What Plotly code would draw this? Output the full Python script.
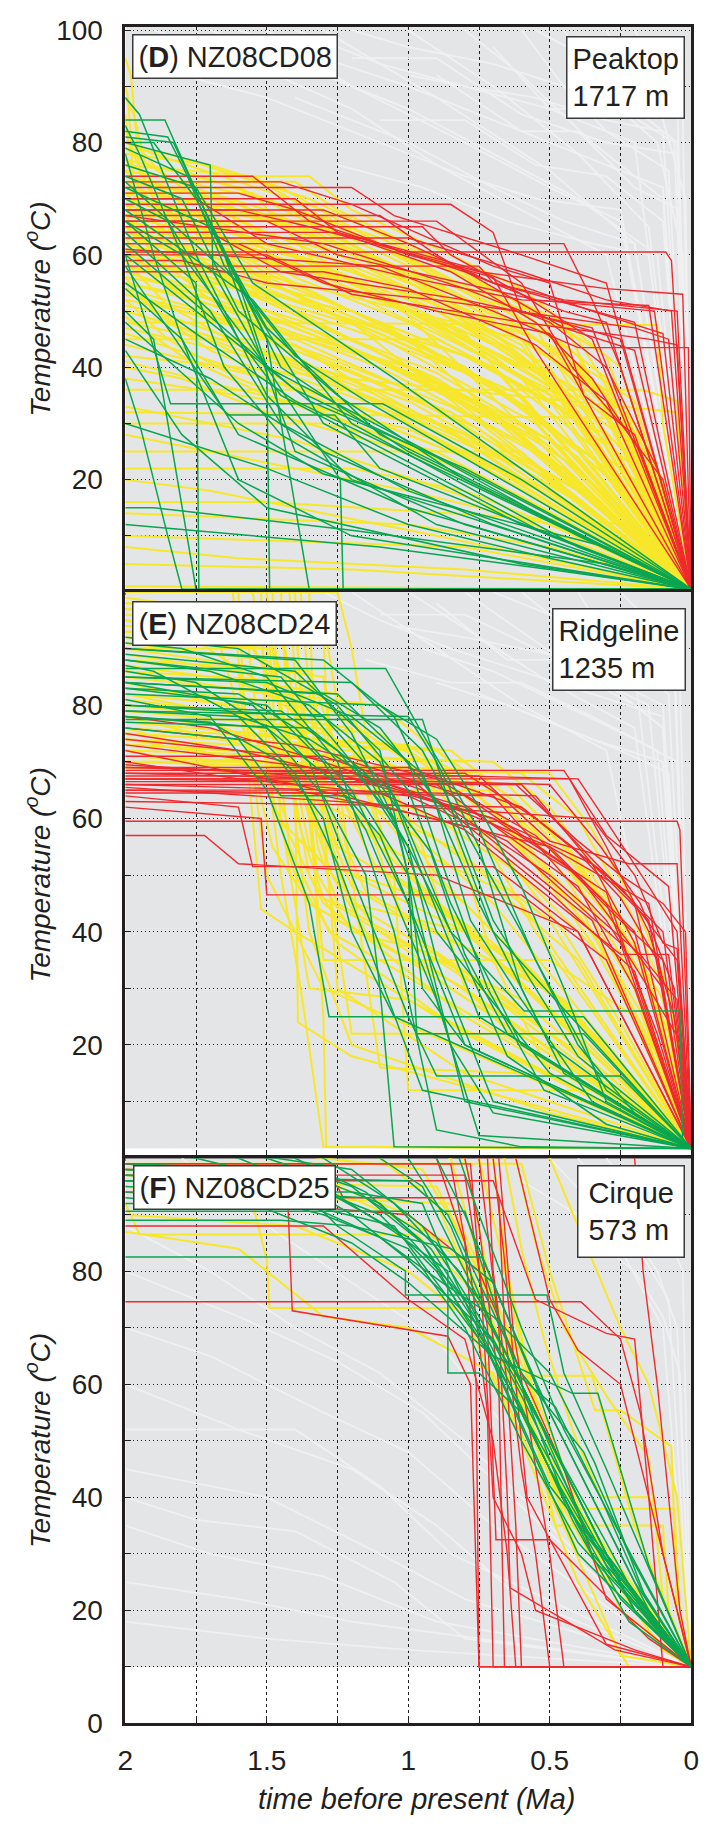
import plotly.graph_objects as go

# ---------------- data ----------------
time_ticks = [0, 0.25, 0.5, 0.75, 1, 1.25, 1.5, 1.75, 2]
time_ticklabels = ["0", "", "0.5", "", "1", "", "1.5", "", "2"]
temp_ticks = [0, 10, 20, 30, 40, 50, 60, 70, 80, 90, 100]
temp_labels_D = ["", "", "20", "", "40", "", "60", "", "80", "", "100"]
temp_labels_E = ["", "", "20", "", "40", "", "60", "", "80", "", ""]
temp_labels_F = ["0", "", "20", "", "40", "", "60", "", "80", "", ""]

panel_names = ["D", "E", "F"]
sample_ids = ["NZ08CD08", "NZ08CD24", "NZ08CD25"]
site_names = ["Peaktop", "Ridgeline", "Cirque"]
elevations_m = [1717, 1235, 573]
surface_temp = [0.5, 1.7, 10]      # lower limit of the explored (grey) path field
grey_top = [101, 100, 100]

# ---- panel D : NZ08CD08 ----
D_gray = [
    [(1.3,100),(0.9,88),(0.5,75),(0.2,62),(0,0.5)],
    [(1.0,100),(0.7,90),(0.4,78),(0.15,65),(0,0.5)],
    [(0.8,100),(0.6,92),(0.35,80),(0.1,70),(0,0.5)],
    [(0.6,100),(0.45,90),(0.3,82),(0.08,75),(0,0.5)],
    [(0.45,100),(0.3,88),(0.12,80),(0.03,60),(0,0.5)],
    [(1.2,95),(0.9,95),(0.6,85),(0.3,80),(0.05,78),(0,0.5)],
    [(1.5,100),(1.2,90),(0.8,80),(0.5,72),(0.25,66),(0,0.5)],
    [(0.9,92),(0.6,82),(0.4,82),(0.2,72),(0.04,68),(0,0.5)],
    [(0.3,100),(0.2,90),(0.1,84),(0.02,70),(0,0.5)],
    [(1.1,84),(0.8,84),(0.55,76),(0.3,74),(0.1,66),(0,0.5)],
    [(0.7,97),(0.5,86),(0.25,86),(0.06,80),(0,0.5)],
    [(1.7,100),(1.3,92),(1.0,86),(0.7,78),(0.4,70),(0.12,60),(0,0.5)],
    [(1.9,100),(1.6,95),(1.2,86),(0.9,76),(0.6,68),(0.3,60),(0,0.5)],
    [(0.2,100),(0.12,92),(0.05,88),(0,0.5)],
    [(1.4,88),(1.0,80),(0.7,72),(0.45,66),(0.2,62),(0,0.5)],
    [(1.6,100),(1.3,95),(1.0,90),(0.7,84),(0.4,78),(0.1,72),(0,0.5)],
    [(1.4,100),(1.1,94),(0.8,90),(0.5,86),(0.2,80),(0,0.5)],
    [(1.2,100),(1.0,97),(0.7,94),(0.45,90),(0.2,86),(0.05,80),(0,0.5)],
    [(1.0,92),(0.8,90),(0.55,88),(0.3,84),(0.1,82),(0,0.5)],
    [(0.55,100),(0.4,96),(0.25,94),(0.12,90),(0.03,85),(0,0.5)],
    [(1.8,92),(1.5,88),(1.1,80),(0.8,74),(0.55,70),(0.25,68),(0,0.5)],
    [(1.25,76),(0.95,72),(0.65,66),(0.35,62),(0.15,60),(0,0.5)],
]
D_yellow = [
    [(2,78),(1.7,76),(1.45,72),(1.1,62),(0.7,52),(0.4,42),(0,0.5)],
    [(2,75),(1.5,70),(1.0,58),(0.6,45),(0,0.5)],
    [(2,73),(1.65,70),(1.2,60),(0.7,48),(0.3,35),(0,0.5)],
    [(2,72),(1.3,65),(0.9,52),(0.5,40),(0,0.5)],
    [(2,70),(1.5,62),(1.0,50),(0.5,35),(0,0.5)],
    [(2,68),(1.8,67),(1.4,60),(0.9,48),(0.4,32),(0,0.5)],
    [(2,66),(1.2,55),(0.6,38),(0,0.5)],
    [(2,65),(1.6,58),(1.1,48),(0.6,33),(0,0.5)],
    [(2,63),(1.4,55),(0.8,40),(0.3,22),(0,0.5)],
    [(2,62),(1.0,45),(0,0.5)],
    [(2,60),(1.7,56),(1.2,45),(0.7,32),(0,0.5)],
    [(2,58),(1.5,50),(0.9,37),(0,0.5)],
    [(2,57),(1.3,46),(0.6,28),(0,0.5)],
    [(2,55),(1.8,53),(1.1,40),(0.5,24),(0,0.5)],
    [(2,53),(1.4,44),(0,0.5)],
    [(2,52),(1.6,48),(1.0,35),(0.4,18),(0,0.5)],
    [(2,50),(1.2,38),(0.6,22),(0,0.5)],
    [(2,48),(1.7,45),(0.8,28),(0,0.5)],
    [(2,46),(1.0,30),(0,0.5)],
    [(2,44),(1.5,38),(0.7,22),(0,0.5)],
    [(2,80),(1.9,78),(1.6,73),(1.3,68),(1.0,62),(0.6,50),(0.3,38),(0,0.5)],
    [(2,76),(1.55,74),(1.25,65),(0.95,58),(0.55,47),(0,0.5)],
    [(2,74),(1.35,74),(1.2,68),(0.85,60),(0.6,54),(0.25,40),(0,0.5)],
    [(2,69),(1.45,69),(1.1,63),(0.75,55),(0.45,48),(0,0.5)],
    [(2,67),(1.75,67),(1.4,60),(1.0,54),(0.55,45),(0.25,33),(0,0.5)],
    [(2,71),(1.55,71),(1.3,57),(0.8,46),(0,0.5)],
    [(2,64),(1.9,62),(1.6,55),(1.3,50),(0.8,42),(0.3,28),(0,0.5)],
    [(2,61),(1.3,52),(0.7,40),(0.2,20),(0,0.5)],
    [(2,36),(0.17,36),(0.05,34),(0,0.5)],
    [(2,30),(1.3,30),(0.9,25),(0,0.5)],
    [(2,25),(0.6,25),(0.5,20),(0,0.5)],
    [(2,16),(1.5,16),(0.2,12),(0,0.5)],
    [(2,10),(0.8,8),(0,0.5)],
    [(2,5),(1.2,4),(0,0.5)],
    [(2,40),(1.8,38),(1.5,32),(1.0,25),(0,0.5)],
    [(2,33),(1.4,27),(0.8,17),(0,0.5)],
    [(2,20),(1.7,18),(0.9,10),(0,0.5)],
    [(2,45),(0.9,45),(0.7,40),(0,0.5)],
    [(2,48),(0.12,47.5),(0.1,30),(0,0.5)],
    [(2,42),(0.05,32),(0,0.5)],
    [(2,1),(0,0.5)],
    [(2,95),(1.98,92),(1.95,75),(1.8,60),(1.5,45),(0,0.5)],
    [(2,88),(1.97,85),(1.9,70),(1.6,58),(1.2,48),(0,0.5)],
    [(2,62),(1.6,57),(1.2,49),(0.8,40),(0.4,25),(0,0.5)],
    [(2,59),(1.5,54),(1.1,46),(0.6,35),(0,0.5)],
    [(2,56),(1.75,54),(1.3,47),(0.9,39),(0.4,24),(0,0.5)],
    [(2,66),(1.5,60),(1.15,54),(0.7,42),(0.3,26),(0,0.5)],
    [(2,54),(1.5,47),(1.1,41),(0.7,31),(0,0.5)],
    [(2,69),(1.7,64),(1.3,58),(0.9,50),(0.5,38),(0,0.5)],
    [(2,51),(1.9,50),(1.5,43),(1.0,34),(0.5,20),(0,0.5)],
    [(2,47),(1.4,40),(0.9,30),(0,0.5)],
    [(2,72),(1.6,68),(1.2,61),(0.8,52),(0.45,42),(0.2,30),(0,0.5)],
    [(2,58),(1.2,50),(0.8,42),(0.35,30),(0,0.5)],
    [(2,64),(1.45,58),(1.0,50),(0.6,40),(0.25,28),(0,0.5)],
    [(2,77),(1.6,72),(1.2,62),(0.8,50),(0.4,34),(0,0.5)],
    [(2,74),(1.7,70),(1.4,64),(1.0,54),(0.6,42),(0.25,24),(0,0.5)],
    [(2,70),(1.8,68),(1.5,63),(1.1,55),(0.7,45),(0.35,32),(0,0.5)],
    [(2,67),(1.6,62),(1.25,56),(0.85,47),(0.45,35),(0,0.5)],
    [(2,63),(1.7,60),(1.35,52),(0.95,44),(0.55,32),(0.2,16),(0,0.5)],
    [(2,60),(1.55,53),(1.15,47),(0.75,38),(0.35,24),(0,0.5)],
    [(2,57),(1.7,52),(1.4,46),(1.0,40),(0.6,30),(0.25,15),(0,0.5)],
    [(2,55),(1.45,48),(1.05,40),(0.65,30),(0,0.5)],
    [(2,53),(1.75,50),(1.3,42),(0.85,33),(0.45,22),(0,0.5)],
    [(2,50),(1.6,44),(1.2,37),(0.8,28),(0.4,16),(0,0.5)],
    [(2,76),(1.8,75),(1.5,70),(1.15,63),(0.75,52),(0.4,40),(0.15,22),(0,0.5)],
    [(2,79),(1.85,78),(1.6,74),(1.35,70),(0.95,60),(0.55,48),(0.2,30),(0,0.5)],
    [(2,73),(1.4,73),(1.25,68),(1.0,62),(0.7,54),(0.4,45),(0.1,20),(0,0.5)],
    [(2,71),(1.65,66),(1.3,61),(0.9,53),(0.5,42),(0.2,26),(0,0.5)],
    [(2,65),(1.8,63),(1.5,59),(1.2,53),(0.9,46),(0.5,36),(0.2,22),(0,0.5)],
    [(2,62),(1.75,58),(1.45,51),(1.1,45),(0.7,37),(0.3,22),(0,0.5)],
    [(2,58),(1.8,56),(1.55,50),(1.25,44),(0.9,37),(0.5,27),(0,0.5)],
    [(2,68),(1.3,67),(1.05,60),(0.75,52),(0.55,50),(0.3,42),(0,0.5)],
    [(2,72),(1.5,66),(1.3,64),(1.0,57),(0.8,50),(0.5,44),(0.2,34),(0,0.5)],
    [(2,66),(1.9,65),(1.6,60),(1.4,55),(1.0,50),(0.6,45),(0.3,36),(0,0.5)],
    [(2,28),(1.6,24),(1.0,18),(0.5,12),(0,0.5)],
    [(2,22),(1.2,22),(0.8,18),(0.4,10),(0,0.5)],
    [(2,14),(1.0,12),(0.5,8),(0,0.5)],
    [(2,38),(1.2,32),(0.6,20),(0,0.5)],
    [(2,8),(1.6,6),(0.8,4),(0,0.5)],
    [(2,32),(0.3,31),(0.2,25),(0,0.5)],
    [(2,41),(1.6,36),(1.0,29),(0.5,18),(0,0.5)],
    [(2,85),(1.99,80),(1.9,70),(1.7,64),(1.4,58),(1.0,50),(0.5,38),(0,0.5)],
    [(2,90),(1.99,88),(1.97,72),(1.85,66),(1.5,60),(1.1,54),(0,0.5)],
    [(2,82),(1.9,76),(1.75,70),(1.5,64),(1.1,56),(0.6,44),(0,0.5)],
    [(2,79),(1.8,72),(1.6,66),(1.3,60),(0.9,50),(0.4,36),(0,0.5)],
    [(2,77),(1.85,71),(1.65,63),(1.4,56),(1.0,48),(0.5,34),(0,0.5)],
    [(2,75),(1.9,69),(1.7,62),(1.45,54),(1.05,44),(0.55,30),(0,0.5)],
    [(2,73),(1.8,66),(1.55,58),(1.2,50),(0.8,40),(0.35,24),(0,0.5)],
    [(2,71),(1.9,66),(1.7,58),(1.4,50),(1.0,40),(0.5,26),(0,0.5)],
    [(2,69),(1.85,62),(1.6,54),(1.3,47),(0.9,38),(0.4,22),(0,0.5)],
    [(2,67),(1.9,60),(1.7,52),(1.4,45),(1.0,36),(0.5,20),(0,0.5)],
    [(2,65),(1.8,57),(1.5,49),(1.15,42),(0.7,32),(0,0.5)],
    [(2,63),(1.9,56),(1.65,48),(1.3,41),(0.85,32),(0.4,18),(0,0.5)],
    [(2,61),(1.8,53),(1.55,46),(1.2,39),(0.75,29),(0,0.5)],
    [(2,59),(1.85,51),(1.6,44),(1.25,37),(0.8,27),(0,0.5)],
    [(2,56),(1.9,50),(1.7,43),(1.4,37),(1.0,30),(0.5,17),(0,0.5)],
    [(2,54),(1.8,47),(1.5,40),(1.1,33),(0.6,22),(0,0.5)],
    [(2,52),(1.85,45),(1.6,38),(1.25,31),(0.8,22),(0,0.5)],
    [(2,49),(1.8,42),(1.5,35),(1.1,28),(0.6,17),(0,0.5)],
    [(2,76),(1.7,71),(1.5,68),(1.2,61),(0.9,55),(0.6,47),(0.3,35),(0,0.5)],
    [(2,74),(1.6,69),(1.35,64),(1.05,57),(0.75,50),(0.45,40),(0.2,28),(0,0.5)],
    [(2,70),(1.75,67),(1.5,61),(1.2,57),(0.9,51),(0.6,43),(0.3,31),(0,0.5)],
    [(2,68),(1.55,63),(1.3,58),(1.0,51),(0.7,44),(0.4,34),(0.15,20),(0,0.5)],
]
D_red = [
    [(2,74),(1.55,74),(1.35,66),(0.8,57),(0.45,50),(0.3,48),(0,0.5)],
    [(2,72),(1.2,72),(1.05,67),(0.6,60),(0.3,55),(0,0.5)],
    [(2,70),(1.4,70),(1.25,64),(0.8,58),(0.35,50),(0.1,46),(0,0.5)],
    [(2,69),(0.85,69),(0.7,64),(0.6,50),(0.25,45),(0,0.5)],
    [(2,68),(1.3,68),(1.0,62),(0.7,55),(0.2,48),(0,0.5)],
    [(2,67),(1.1,67),(0.9,60),(0.45,47),(0.2,43),(0,0.5)],
    [(2,66),(1.5,66),(1.25,60),(0.55,52),(0.13,50),(0,0.5)],
    [(2,65),(0.95,65),(0.85,60),(0.6,53),(0.35,45),(0,0.5)],
    [(2,64),(1.7,64),(1.45,57),(0.8,52),(0.35,47),(0,0.5)],
    [(2,63),(1.0,63),(0.6,57),(0.3,52),(0.07,50),(0,0.5)],
    [(2,62),(1.6,62),(1.3,55),(0.9,50),(0.5,46),(0,0.5)],
    [(2,71),(1.6,71),(1.4,68),(1.0,60),(0.7,56),(0.55,43),(0,0.5)],
    [(2,60.5),(0.09,60.5),(0.07,59),(0,0.5)],
    [(2,58),(0.75,58),(0.7,55),(0.45,52),(0.05,50),(0,0.5)],
    [(2,60),(1.5,60),(1.2,53),(0.6,48),(0.15,45),(0.05,44),(0,0.5)],
    [(2,73),(1.45,73),(1.2,69),(0.7,58),(0.5,55),(0.38,35),(0.2,28),(0,0.5)],
    [(2,66),(0.9,66),(0.6,55),(0.42,40),(0.25,30),(0.1,20),(0,0.5)],
    [(2,64),(1.25,64),(0.85,57),(0.55,48),(0.35,38),(0.18,25),(0,0.5)],
    [(2,70),(1.75,70),(1.5,62),(1.0,56),(0.6,52),(0.15,51),(0,0.5)],
    [(2,68),(1.6,68),(1.35,65),(0.75,57),(0.3,54),(0.03,53),(0,0.5)],
    [(2,59),(1.8,59),(1.5,55),(0.9,52),(0.2,47),(0.08,45),(0,0.5)],
    [(2,62),(0.45,62),(0.35,52),(0.25,40),(0,0.5)],
    [(2,57),(1.3,57),(1.0,54),(0.55,44),(0.3,34),(0,0.5)],
    [(2,61),(1.1,58),(0.7,50),(0.4,43.5),(0.01,43.5),(0,0.5)],
    [(2,67),(1.3,62),(0.8,54),(0.5,48),(0.3,40),(0.12,22),(0,0.5)],
]
D_green = [
    [(2,84),(1.86,84),(1.65,60),(1.4,25),(0.8,12),(0,0.5)],
    [(2,88),(1.95,85),(1.75,60),(1.5,35),(1.2,20),(0,0.5)],
    [(2,82),(1.85,81),(1.7,66),(1.45,40),(1.0,25),(0,0.5)],
    [(2,81),(1.83,80),(1.6,55),(1.3,30),(0.6,12),(0,0.5)],
    [(2,80),(1.9,80),(1.75,70),(1.5,45),(1.35,0.5),(0,0.5)],
    [(2,80),(1.7,76),(1.69,57),(1.5,40),(0,0.5)],
    [(2,76),(1.75,72),(1.55,55),(1.05,38),(0,0.5)],
    [(2,74),(1.8,70),(1.6,50),(1.25,35),(0.8,20),(0,0.5)],
    [(2,72),(1.7,65),(1.5,47),(1.1,28),(0,0.5)],
    [(2,70),(1.85,66),(1.6,45),(1.45,35),(0.5,10),(0,0.5)],
    [(2,68),(1.55,52),(1.2,30),(0.4,8),(0,0.5)],
    [(2,66),(1.8,60),(1.5,40),(1.35,34),(0.8,22),(0,0.5)],
    [(2,64),(1.7,50),(1.45,30),(1.0,18),(0,0.5)],
    [(2,60),(1.84,33.5),(1.09,33.5),(0.6,20),(0,0.5)],
    [(2,58),(1.64,31.5),(1.26,31.5),(1.1,22),(0,0.5)],
    [(2,54),(1.8,45),(1.6,20),(1.2,10),(0,0.5)],
    [(2,50),(1.9,45),(1.75,0.5),(0,0.5)],
    [(2,66),(1.75,55),(1.74,0.5),(0,0.5)],
    [(2,73),(1.6,55),(1.5,40),(1.49,0.5),(0,0.5)],
    [(2,60),(1.5,40),(1.24,20),(1.23,0.5),(0,0.5)],
    [(2,38),(1.95,30),(1.85,10),(1.8,0.5),(0,0.5)],
    [(2,12),(1.1,8),(0.5,4),(0,0.5)],
    [(2,15),(1.9,15),(1.2,11),(0.3,5),(0,0.5)],
    [(2,30),(1.5,22),(1.0,12),(0.5,6),(0,0.5)],
    [(2,45),(1.7,38),(1.3,25),(0.7,12),(0,0.5)],
    [(2,55),(1.75,46),(1.4,34),(0.9,22),(0,0.5)],
    [(2,48),(1.6,30),(1.3,21),(0.3,8),(0,0.5)],
    [(2,43),(1.8,28),(1.5,15),(0.6,5),(0,0.5)],
    [(2,83),(1.95,78),(1.8,60),(1.65,40),(1.45,28),(0.9,12),(0,0.5)],
    [(2,79),(1.78,74),(1.65,58),(1.4,42),(1.15,34),(0,0.5)],
    [(2,62),(1.4,36),(0.9,24),(0.4,10),(0,0.5)],
    [(2,78),(1.9,60),(1.8,45),(1.6,28),(1.0,15),(0,0.5)],
]

# ---- panel E : NZ08CD24 ----
E_gray = [
    [(1.2,100),(0.9,90),(0.6,80),(0.3,72),(0,1.7)],
    [(1.0,100),(0.75,92),(0.5,84),(0.2,76),(0,1.7)],
    [(0.8,100),(0.6,93),(0.4,86),(0.15,80),(0,1.7)],
    [(0.6,100),(0.45,94),(0.25,88),(0.08,82),(0,1.7)],
    [(0.4,100),(0.3,92),(0.15,88),(0.04,84),(0,1.7)],
    [(1.1,96),(0.8,96),(0.55,90),(0.3,85),(0.1,80),(0,1.7)],
    [(0.95,90),(0.7,86),(0.45,80),(0.2,74),(0.05,70),(0,1.7)],
    [(0.5,97),(0.35,90),(0.2,90),(0.06,86),(0,1.7)],
    [(0.25,100),(0.15,95),(0.06,90),(0,1.7)],
    [(1.15,88),(0.85,84),(0.6,84),(0.35,78),(0.12,72),(0,1.7)],
    [(0.75,82),(0.55,78),(0.35,74),(0.1,70),(0,1.7)],
    [(0.9,98),(0.65,88),(0.45,88),(0.25,82),(0.1,76),(0,1.7)],
    [(1.3,100),(1.1,95),(0.85,90),(0.6,86),(0.35,82),(0.1,78),(0,1.7)],
    [(0.7,100),(0.55,97),(0.4,94),(0.22,92),(0.06,90),(0,1.7)],
    [(1.05,94),(0.8,92),(0.6,90),(0.4,88),(0.2,86),(0,1.7)],
    [(0.9,84),(0.65,80),(0.45,76),(0.25,72),(0.08,68),(0,1.7)],
    [(0.5,90),(0.35,84),(0.2,80),(0.1,76),(0,1.7)],
]
E_yellow = [
    [(2,99),(1.7,97),(1.55,70),(1.3,45),(0.8,25),(0,1.7)],
    [(2,97),(1.6,96),(1.45,80),(1.35,55),(1.1,40),(0,1.7)],
    [(2,95),(1.8,93),(1.4,80),(1.3,60),(1.2,45),(0.7,30),(0,1.7)],
    [(2,92),(1.55,90),(1.4,78),(1.25,55),(0.9,45),(0.4,25),(0,1.7)],
    [(2,90),(1.48,90),(1.33,70),(1.2,50),(0.6,35),(0,1.7)],
    [(2,88),(1.7,86),(1.3,78),(1.15,60),(1.0,40),(0.3,15),(0,1.7)],
    [(2,86),(1.5,82),(1.2,72),(1.0,58),(0.7,45),(0,1.7)],
    [(2,84),(1.65,80),(1.35,70),(1.1,55),(0.8,40),(0.4,22),(0,1.7)],
    [(2,82),(1.4,76),(1.1,65),(0.9,50),(0.5,30),(0,1.7)],
    [(2,80),(1.8,79),(1.45,72),(1.2,62),(0.95,48),(0,1.7)],
    [(2,78),(1.5,72),(1.25,65),(0.85,55),(0.5,42),(0,1.7)],
    [(2,76),(1.6,70),(1.2,60),(0.8,45),(0.4,25),(0,1.7)],
    [(2,74),(1.3,68),(0.9,60),(0.6,50),(0.3,35),(0,1.7)],
    [(2,72),(1.55,68),(1.3,65),(0.72,65),(0.5,55),(0.25,40),(0,1.7)],
    [(2,70),(1.45,70),(1.3,57),(1.2,45),(0.8,40),(0,1.7)],
    [(2,100),(1.45,100),(1.44,90),(1.4,60),(1.35,40),(1.2,20),(0.5,8),(0,1.7)],
    [(2,100),(1.35,100),(1.34,85),(1.3,60),(1.25,30),(0.8,15),(0,1.7)],
    [(2,100),(1.6,100),(1.58,80),(1.5,50),(1.3,30),(0,1.7)],
    [(2,98),(1.5,98),(1.47,75),(1.42,55),(1.28,40),(1.1,35),(0,1.7)],
    [(2,100),(1.25,100),(1.2,90),(1.15,75),(1.0,60),(0.6,45),(0,1.7)],
    [(2,96),(1.4,94),(1.35,70),(1.32,40),(1.3,25),(1.29,2),(0,1.7)],
    [(2,93),(1.5,90),(1.4,70),(1.39,24),(1.2,18),(0.6,10),(0,1.7)],
    [(2,89),(1.6,86),(1.55,60),(1.52,44),(1.4,40),(0.9,25),(0,1.7)],
    [(2,87),(1.25,82),(1.1,70),(0.95,55),(0.8,30),(0.6,20),(0,1.7)],
    [(2,83),(1.3,80),(1.0,70),(0.85,60),(0.7,35),(0.5,15),(0,1.7)],
    [(2,79),(1.1,75),(0.9,68),(0.75,58),(0.55,40),(0,1.7)],
    [(2,73),(0.9,70),(0.7,65),(0.45,50),(0.2,30),(0,1.7)],
    [(2,71),(0.75,68),(0.5,58),(0.3,45),(0.1,28),(0,1.7)],
    [(2,75),(1.0,72),(0.7,62),(0.4,45),(0.15,20),(0,1.7)],
    [(2,91),(1.5,88),(1.35,60),(1.3,35),(0.5,35),(0.2,25),(0,1.7)],
    [(2,94),(1.45,92),(1.3,55),(1.2,22),(0.4,22),(0,1.7)],
    [(2,81),(1.2,76),(1.05,50),(1.0,12),(0.3,12),(0,1.7)],
    [(2,90),(1.3,85),(1.2,50),(1.1,16),(0.6,15),(0,1.7)],
    [(2,100),(1.52,100),(1.5,70),(1.45,50),(1.38,30),(1.3,2),(0,1.7)],
    [(2,97),(1.3,95),(1.25,80),(1.15,65),(1.05,50),(0.7,38),(0.3,20),(0,1.7)],
    [(2,85),(1.1,80),(0.85,70),(0.6,55),(0.35,38),(0.15,20),(0,1.7)],
    [(2,77),(0.85,72),(0.6,62),(0.35,48),(0.15,30),(0,1.7)],
    [(2,100),(1.4,100),(1.38,80),(1.32,55),(1.25,45),(0.9,35),(0.5,22),(0,1.7)],
    [(2,73),(0.8,70),(0.55,60),(0.35,50),(0.2,38),(0.08,22),(0,1.7)],
    [(2,69),(0.65,66),(0.45,56),(0.3,45),(0.15,32),(0,1.7)],
    [(2,74),(1.2,72),(0.8,64),(0.55,52),(0.35,40),(0.18,26),(0,1.7)],
    [(2,70),(0.6,68),(0.4,60),(0.22,44),(0.1,30),(0,1.7)],
    [(2,76),(1.0,73),(0.75,64),(0.5,50),(0.3,36),(0.12,18),(0,1.7)],
    [(2,78),(1.3,75),(0.95,67),(0.7,56),(0.45,40),(0.25,24),(0,1.7)],
    [(2,100),(1.55,100),(1.5,85),(1.45,60),(1.4,45),(1.35,30),(1.0,28),(0,1.7)],
    [(2,100),(1.48,100),(1.46,82),(1.4,64),(1.35,50),(1.25,42),(0.8,30),(0,1.7)],
    [(2,100),(1.42,100),(1.4,85),(1.36,65),(1.32,50),(1.2,40),(0.9,36),(0,1.7)],
    [(2,95),(1.3,93),(1.28,70),(1.22,55),(1.15,47),(0.9,40),(0.45,28),(0,1.7)],
    [(2,88),(1.35,86),(1.25,72),(1.12,62),(1.0,55),(0.7,48),(0.4,35),(0,1.7)],
    [(2,82),(1.6,80),(1.5,70),(1.42,58),(1.3,52),(0.95,46),(0.5,30),(0,1.7)],
    [(2,100),(1.62,100),(1.6,88),(1.55,70),(1.48,55),(1.35,45),(1.0,35),(0,1.7)],
    [(2,100),(1.5,100),(1.48,90),(1.44,72),(1.38,58),(1.3,46),(1.1,40),(0.6,28),(0,1.7)],
    [(2,100),(1.38,100),(1.36,88),(1.33,72),(1.28,58),(1.2,48),(1.0,42),(0.5,30),(0,1.7)],
    [(2,98),(1.58,97),(1.54,80),(1.47,62),(1.4,50),(1.25,38),(0.8,22),(0,1.7)],
    [(2,93),(1.44,92),(1.4,78),(1.35,62),(1.27,50),(1.15,40),(0.7,25),(0,1.7)],
    [(2,86),(1.35,84),(1.3,75),(1.22,62),(1.12,52),(0.9,44),(0.55,32),(0,1.7)],
    [(2,72),(0.7,70),(0.5,62),(0.35,52),(0.22,40),(0.1,24),(0,1.7)],
    [(2,75),(0.9,72),(0.62,62),(0.42,50),(0.25,36),(0.12,20),(0,1.7)],
    [(2,71),(0.5,68),(0.35,58),(0.2,45),(0.08,30),(0,1.7)],
]
E_red = [
    [(2,69),(1.0,69),(0.6,62),(0.3,50),(0.1,40),(0,1.7)],
    [(2,68),(0.8,68),(0.55,60),(0.25,48),(0.05,35),(0,1.7)],
    [(2,67),(1.2,67),(0.7,60),(0.35,52),(0.15,42),(0,1.7)],
    [(2,66),(0.6,66),(0.45,58),(0.2,45),(0,1.7)],
    [(2,65),(1.4,65),(1.0,61),(0.5,55),(0.15,45),(0,1.7)],
    [(2,68.5),(0.45,68.5),(0.3,57),(0.08,48),(0,1.7)],
    [(2,59.5),(0.05,59.5),(0.04,58),(0,1.7)],
    [(2,57),(1.72,57),(1.6,52),(0.9,50),(0.4,40),(0,1.7)],
    [(2,78),(1.7,76),(1.3,70),(0.9,63),(0.5,55),(0.2,40),(0,1.7)],
    [(2,75),(1.6,72),(1.1,66),(0.7,60),(0.3,47),(0,1.7)],
    [(2,73),(1.5,70),(1.2,68),(0.8,62),(0.4,50),(0.1,30),(0,1.7)],
    [(2,72),(1.8,70),(1.4,66),(0.75,58),(0.35,42),(0,1.7)],
    [(2,70),(1.6,67),(1.0,64),(0.65,56),(0.25,38),(0,1.7)],
    [(2,76),(1.4,73),(0.9,67),(0.55,57),(0.3,45),(0.12,22),(0,1.7)],
    [(2,66.5),(0.98,66.5),(0.7,55),(0.5,47),(0.2,33),(0,1.7)],
    [(2,64),(1.6,62),(1.55,51.5),(0.7,51.5),(0.4,40),(0,1.7)],
    [(2,62),(1.52,60),(1.5,46.5),(0.6,46.5),(0.3,35),(0,1.7)],
    [(2,65.5),(0.35,60),(0.2,50),(0.1,38),(0.05,37),(0,1.7)],
    [(2,67.5),(0.75,67.5),(0.5,56),(0.22,52),(0.05,52),(0,1.7)],
    [(2,69.5),(0.9,66),(0.4,48),(0.2,30),(0,1.7)],
    [(2,71),(1.3,71),(0.95,65),(0.5,50),(0.18,36),(0.05,28),(0,1.7)],
    [(2,64.5),(1.1,64.5),(0.8,58),(0.45,44),(0.25,36),(0.08,36),(0,1.7)],
    [(2,67),(0.43,67),(0.3,55),(0.15,40),(0.06,25),(0,1.7)],
    [(2,74),(1.2,70),(0.8,64),(0.45,52),(0.25,42),(0.1,35),(0,1.7)],
    [(2,66),(0.55,64),(0.35,52),(0.2,38),(0.1,20),(0,1.7)],
    [(2,68),(0.5,66),(0.32,55),(0.18,45),(0.06,30),(0,1.7)],
    [(2,63),(0.6,62),(0.42,55),(0.25,46),(0.12,35),(0,1.7)],
    [(2,69),(0.4,67),(0.28,58),(0.15,48),(0.05,40),(0,1.7)],
    [(2,65),(0.7,64),(0.45,50),(0.3,42),(0.15,30),(0.03,20),(0,1.7)],
    [(2,67),(0.62,66),(0.4,56),(0.25,50),(0.1,45),(0.02,40),(0,1.7)],
]
E_green = [
    [(2,92),(1.6,90),(1.25,80),(1.0,65),(0.85,45),(0.6,20),(0,1.7)],
    [(2,90),(1.4,88),(1.2,75),(1.05,60),(0.9,40),(0.5,15),(0,1.7)],
    [(2,88),(1.7,86),(1.35,80),(1.1,70),(0.95,50),(0.75,25),(0,1.7)],
    [(2,86.5),(1.08,86.5),(0.95,75),(0.75,58),(0.55,35),(0.3,12),(0,1.7)],
    [(2,85),(1.5,84),(1.2,78),(0.95,68),(0.75,45),(0.5,20),(0,1.7)],
    [(2,84),(1.3,82),(1.1,76),(0.85,60),(0.7,40),(0,1.7)],
    [(2,83),(1.6,82),(1.4,76),(1.2,65),(1.0,45),(0.85,20),(0.7,8),(0,1.7)],
    [(2,77.5),(0.95,77.5),(0.85,62),(0.7,42),(0.4,18),(0,1.7)],
    [(2,80),(1.45,79),(1.25,72),(1.05,60),(0.9,30),(0.8,10),(0,1.7)],
    [(2,79),(1.0,78),(0.9,70),(0.75,55),(0.6,30),(0.45,15),(0,1.7)],
    [(2,78),(1.7,77),(1.45,70),(1.3,60),(1.2,40),(1.05,25),(0,1.7)],
    [(2,77),(1.35,76),(1.15,68),(1.0,55),(0.9,35),(0.7,10),(0,1.7)],
    [(2,76),(1.6,74),(1.45,64),(1.22,64),(1.1,57),(1.0,45),(0.8,20),(0,1.7)],
    [(2,86),(1.75,84),(1.5,76),(1.3,64),(1.15,50),(1.1,30),(1.05,2),(0,1.7)],
    [(2,84),(1.55,80),(1.35,70),(1.2,50),(1.0,25),(0.9,14.5),(0.25,14.5),(0,1.7)],
    [(2,81),(1.7,78),(1.5,65),(1.35,45),(1.28,25),(0.38,25),(0,1.7)],
    [(2,89),(1.4,86),(1.1,72),(1.0,50),(0.97,22),(0.38,22),(0,1.7)],
    [(2,80),(1.3,78),(1.05,64),(0.85,40),(0.59,26),(0.04,26),(0.03,2),(0,1.7)],
    [(2,91),(1.8,90),(1.5,85),(1.25,70),(1.05,40),(0.9,5),(0.6,2),(0,1.7)],
    [(2,85),(1.2,84),(0.95,72),(0.8,58),(0.6,40),(0.4,20),(0.2,8),(0,1.7)],
    [(2,83),(1.5,80),(1.3,70),(1.15,58),(1.0,40),(0.9,28),(0.75,4),(0,1.7)],
    [(2,87),(1.9,86),(1.6,78),(1.4,68),(1.25,52),(1.1,32),(0.95,12),(0,1.7)],
    [(2,78),(1.5,76),(1.3,68),(1.15,62),(1.0,50),(0.95,30),(0.8,20),(0,1.7)],
    [(2,82),(1.1,80),(0.9,74),(0.75,62),(0.6,48),(0.45,30),(0.3,10),(0,1.7)],
    [(2,88),(1.45,85),(1.2,70),(1.0,55),(0.8,35),(0.65,18),(0.3,6),(0,1.7)],
    [(2,90),(1.3,88),(1.05,78),(0.9,62),(0.78,42),(0.6,28),(0.35,10),(0,1.7)],
    [(2,79),(1.6,78),(1.35,74),(1.1,66),(0.92,54),(0.8,36),(0.65,22),(0,1.7)],
    [(2,84),(1.25,82),(1.0,70),(0.88,52),(0.72,30),(0.52,12),(0,1.7)],
]

# ---- panel F : NZ08CD25 ----
F_gray = [
    [(2,60),(1.6,52),(1.2,45),(0.9,35),(0.6,22),(0,10)],
    [(2,45),(1.5,40),(1.1,30),(0.8,22),(0,10)],
    [(2,35),(1.7,30),(1.3,26),(0.9,18),(0,10)],
    [(2,25),(1.6,22),(1.2,18),(0,10)],
    [(2,70),(1.7,65),(1.3,55),(1.0,48),(0.7,35),(0,10)],
    [(2,80),(1.6,72),(1.25,64),(0.95,55),(0,10)],
    [(2,52),(1.4,52),(1.1,42),(0.85,30),(0,10)],
    [(2,18),(1.5,15),(1.0,13),(0,10)],
    [(2,88),(1.7,80),(1.4,70),(1.1,62),(0.8,50),(0,10)],
    [(1.8,100),(1.5,88),(1.2,78),(0.9,68),(0,10)],
    [(0.5,100),(0.35,92),(0.2,85),(0.08,75),(0,10)],
    [(0.4,100),(0.25,90),(0.12,80),(0.05,70),(0,10)],
    [(0.3,100),(0.2,94),(0.1,88),(0.03,80),(0,10)],
    [(0.6,96),(0.4,90),(0.25,84),(0.1,70),(0,10)],
    [(0.35,86),(0.2,80),(0.1,72),(0.04,62),(0,10)],
    [(2,40),(1.75,36),(1.4,34),(1.05,25),(0.8,15),(0,10)],
]
F_yellow = [
    [(2,98),(1.6,97),(1.2,93),(0.85,85),(0.7,70),(0.55,50),(0.4,35),(0,10)],
    [(2,95),(1.55,92),(1.5,82),(1.49,73.5),(0.83,73.5),(0.7,65),(0.5,45),(0,10)],
    [(2,92),(1.95,86.5),(0.97,86.5),(0.8,78),(0.7,70),(0.5,45),(0.3,25),(0,10)],
    [(2,118),(1.1,100),(0.9,92),(0.75,75),(0.6,55),(0.45,38),(0.3,25),(0,10)],
    [(2,104),(0.95,98),(0.8,85),(0.65,68),(0.5,50),(0.35,30),(0,10)],
    [(2,125),(0.75,100),(0.68,85),(0.58,62),(0.5,45),(0.3,30),(0,10)],
    [(2,130),(0.7,100),(0.65,80),(0.55,57),(0.45,40),(0.2,20),(0.1,13),(0,10)],
    [(2,99),(0.6,99),(0.5,80),(0.34,55.4),(0.25,55.4),(0.07,49),(0.05,20),(0,10)],
    [(2,122),(0.8,100),(0.7,75),(0.56,61.5),(0.35,61.5),(0.2,35),(0,10)],
    [(2,96),(0.9,95),(0.7,75),(0.6,58),(0.45,38),(0.06,38),(0.04,20),(0,10)],
    [(2,94),(0.85,92),(0.65,70),(0.55,50),(0.48,35),(0.1,35),(0.08,20),(0,10)],
    [(2,90),(1.4,88),(1.0,80),(0.8,72),(0.6,50),(0.4,25),(0.22,10),(0,10)],
    [(2,87),(1.6,84),(1.3,72),(1.0,70),(0.7,62),(0.45,35),(0.25,12),(0,10)],
    [(2,135),(0.5,100),(0.35,82),(0.25,70),(0.15,60),(0.05,40),(0,10)],
    [(2,132),(0.62,100),(0.55,85),(0.45,70),(0.3,58),(0.15,47),(0.1,22),(0,10)],
    [(2,120),(0.85,100),(0.75,82),(0.62,66),(0.5,52),(0.38,36),(0.25,20),(0,10)],
    [(2,97),(1.3,96),(1.0,90),(0.78,80),(0.64,64),(0.52,46),(0.4,30),(0,10)],
    [(2,128),(0.66,100),(0.6,84),(0.52,68),(0.42,52),(0.32,40),(0.15,40),(0,10)],
]
F_red = [
    [(2,74.6),(0.39,74.6),(0.25,68),(0.18,55),(0.1,30),(0,10)],
    [(2,98),(1.43,98),(1.41,73),(0.86,68.5),(0.78,60),(0.75,10),(0,10)],
    [(2,115),(0.9,100),(0.8,85),(0.76,60),(0.75,10),(0,10)],
    [(2,99),(0.85,99),(0.78,80),(0.72,55),(0.7,10),(0,10)],
    [(2,125),(0.8,100),(0.75,88),(0.68,60),(0.66,10),(0,10)],
    [(2,128),(0.72,100),(0.7,80),(0.65,60),(0.62,35),(0.6,10),(0,10)],
    [(2,130),(0.68,100),(0.63,70),(0.55,45),(0.5,30),(0.45,10),(0,10)],
    [(2,99),(1.25,95),(1.23,93),(0.68,93),(0.66,70),(0.6,45),(0.55,30),(0.5,10),(0,10)],
    [(2,88),(1.3,88),(1.0,75),(0.8,68),(0.7,50),(0.65,30),(0.62,10),(0,10)],
    [(2,96),(0.7,96),(0.55,75),(0.3,69),(0.2,68),(0.15,40),(0.1,10),(0,10)],
    [(2,132),(0.62,100),(0.5,75),(0.4,66),(0.25,60),(0.1,30),(0,10)],
    [(2,94),(1.0,90),(0.75,80),(0.6,62),(0.45,45),(0.3,22),(0,10)],
    [(2,126),(0.75,100),(0.68,70),(0.65,40),(0.64,24),(0.27,13),(0,10)],
    [(2,97),(0.8,97),(0.72,70),(0.69,32.5),(0.5,32.5),(0.35,25),(0.15,15),(0,10)],
    [(2,99),(0.78,99),(0.74,75),(0.7,40),(0.6,30),(0.55,20),(0.4,17),(0.2,13),(0,10)],
    [(2,128),(0.7,100),(0.66,82),(0.62,60),(0.58,40),(0.42,25),(0.3,14),(0,10)],
    [(2,140),(0.2,100),(0.17,80),(0.12,60),(0.08,40),(0.04,20),(0,10)],
]
F_green = [
    [(2,108),(1.5,100),(1.2,95),(0.95,85),(0.75,70),(0.55,50),(0.35,30),(0,10)],
    [(2,98),(1.4,96),(1.1,90),(0.9,80),(0.7,65),(0.5,45),(0.3,28),(0,10)],
    [(2,96),(1.7,95),(1.3,90),(1.0,84),(0.8,70),(0.6,50),(0.4,32),(0,10)],
    [(2,94),(1.2,94),(0.95,92),(0.85,80),(0.68,62),(0.5,42),(0,10)],
    [(2,90.6),(0.8,90.6),(0.7,75),(0.6,60),(0.45,40),(0.25,22),(0,10)],
    [(2,82.5),(0.74,82.5),(0.65,72),(0.55,60),(0.45,45),(0.3,30),(0,10)],
    [(2,112),(1.3,100),(1.05,92),(0.82,80),(0.65,65),(0.5,50),(0.3,30),(0,10)],
    [(2,104),(1.2,98),(0.95,88),(0.75,72),(0.6,58),(0.4,38),(0.2,20),(0,10)],
    [(2,116),(1.0,100),(0.85,88),(0.7,70),(0.55,55),(0.38,35),(0,10)],
    [(2,120),(0.9,100),(0.8,90),(0.65,72),(0.5,55),(0.35,40),(0.2,25),(0,10)],
    [(2,99),(1.45,98),(1.25,88),(1.01,80),(1.01,75.8),(0.51,75.8),(0.45,62),(0.3,45),(0,10)],
    [(2,97),(1.3,95),(1.05,87),(0.86,80),(0.86,62),(0.75,62),(0.6,55),(0.4,35),(0,10)],
    [(2,93),(1.5,91),(1.2,85),(1.0,78),(0.7,65),(0.42,58.4),(0.33,58.4),(0.25,45),(0.15,28),(0,10)],
    [(2,106),(1.6,100),(1.4,96),(1.2,90),(1.0,82),(0.7,68),(0.5,50),(0.3,32),(0.15,18),(0,10)],
    [(2,95),(1.15,93),(0.9,85),(0.75,75),(0.58,58),(0.42,42),(0.25,25),(0,10)],
    [(2,98),(1.35,97),(1.1,92),(0.95,85),(0.8,72),(0.65,60),(0.45,42),(0.28,26),(0,10)],
    [(2,114),(1.1,100),(0.95,95),(0.82,82),(0.68,68),(0.52,52),(0.36,36),(0.2,20),(0,10)],
    [(2,89),(1.45,89),(1.2,88),(0.85,84),(0.7,78),(0.55,60),(0.35,40),(0.15,20),(0,10)],
    [(2,124),(0.82,100),(0.75,90),(0.6,70),(0.45,52),(0.3,38),(0,10)],
    [(2,97),(1.0,96),(0.86,90),(0.72,75),(0.6,62),(0.38,48),(0.22,30),(0,10)],
    [(2,102),(1.75,100),(1.5,97),(1.25,93),(1.0,86),(0.78,74),(0.6,56),(0.42,36),(0.22,18),(0,10)],
    [(2,92),(1.6,92),(1.3,91),(1.05,88),(0.9,78),(0.72,66),(0.56,48),(0.4,30),(0,10)],
    [(2,110),(1.4,100),(1.15,94),(0.92,84),(0.74,70),(0.62,62),(0.48,56),(0.32,40),(0.18,24),(0,10)],
    [(2,96),(1.5,95),(1.1,86),(0.88,78),(0.7,72),(0.5,62),(0.34,46),(0.16,22),(0,10)],
]

# ---------------- styling ----------------
INK = "#231f20"
COL_GREY_BG = "#e4e5e7"
COL_GREY_LINE = "#f0f0f1"
COL_YELLOW = "#f7e72a"
COL_RED = "#ee2a2e"
COL_GREEN = "#0aa551"
FONT = "Liberation Sans, Arial, Helvetica, sans-serif"

W, H = 709, 1831
x_dom = [120 / W, 699 / W]
y_doms = [[1 - 589 / H, 1 - 15 / H],
          [1 - 1164 / H, 1 - 589 / H],
          [1 - 1738 / H, 1 - 1164 / H]]
y_ranges = [[0, 100.6], [0, 100], [0, 100]]

panels = [
    dict(gray=D_gray, yellow=D_yellow, red=D_red, green=D_green, labels=temp_labels_D),
    dict(gray=E_gray, yellow=E_yellow, red=E_red, green=E_green, labels=temp_labels_E),
    dict(gray=F_gray, yellow=F_yellow, red=F_red, green=F_green, labels=temp_labels_F),
]

fig = go.Figure()


def flatten(paths):
    xs, ys = [], []
    for p in paths:
        for t, T in p:
            xs.append(t)
            ys.append(T)
        xs.append(None)
        ys.append(None)
    return xs, ys


shapes = []
annotations = []
for i, pn in enumerate(panels):
    xa = "x" if i == 0 else f"x{i+1}"
    ya = "y" if i == 0 else f"y{i+1}"
    for key, col, wid in [("gray", COL_GREY_LINE, 1.8), ("yellow", COL_YELLOW, 2.0),
                          ("red", COL_RED, 1.4), ("green", COL_GREEN, 1.5)]:
        xs, ys = flatten(pn[key])
        fig.add_trace(go.Scatter(x=xs, y=ys, mode="lines", xaxis=xa, yaxis=ya,
                                 line=dict(color=col, width=wid), hoverinfo="skip",
                                 showlegend=False, connectgaps=False))
    # explored (grey) field of t-T paths
    shapes.append(dict(type="rect", xref=xa, yref=ya, x0=time_ticks[-1], x1=time_ticks[0],
                       y0=surface_temp[i], y1=grey_top[i], fillcolor=COL_GREY_BG,
                       line=dict(width=0), layer="below"))

    axis_common = dict(showline=True, mirror=True, linecolor=INK, linewidth=2.6,
                       ticks="inside", ticklen=6, tickwidth=1.2, tickcolor=INK,
                       showgrid=True, gridcolor=INK, gridwidth=1, zeroline=False,
                       tickfont=dict(family=FONT, size=28, color=INK))
    fig.update_layout(**{
        ("xaxis" if i == 0 else f"xaxis{i+1}"): dict(
            axis_common, domain=x_dom, range=[2, 0], anchor=ya,
            tickvals=time_ticks, ticktext=time_ticklabels,
            showticklabels=(i == 2), griddash="3px,3px", ticklabelstandoff=10),
        ("yaxis" if i == 0 else f"yaxis{i+1}"): dict(
            axis_common, domain=y_doms[i], range=y_ranges[i], anchor=xa,
            tickvals=temp_ticks, ticktext=pn["labels"], griddash="1px,3px",
            ticklabelstandoff=14),
    })

    yc = (y_doms[i][0] + y_doms[i][1]) / 2
    annotations.append(dict(text="<i>Temperature (<sup>o</sup>C)</i>", xref="paper", yref="paper",
                            x=31 / W, y=yc, textangle=-90, showarrow=False,
                            xanchor="center", yanchor="middle",
                            font=dict(family=FONT, size=28, color=INK)))

# sample label boxes
label_pos = [(127, 22), (127, 598), (128, 1171)]
site_pos = [(571, 24), (557, 605), (582, 1171)]
for i in range(3):
    lx, ly = label_pos[i]
    annotations.append(dict(text=f"(<b>{panel_names[i]}</b>) {sample_ids[i]}", xref="paper", yref="paper",
                            x=lx / W, y=1 - ly / H, xanchor="left", yanchor="top", showarrow=False,
                            bgcolor="white", bordercolor="#3a3a3a", borderwidth=1.5, borderpad=5,
                            font=dict(family=FONT, size=29, color=INK)))
    sx, sy = site_pos[i]
    annotations.append(dict(text=f"{site_names[i]}<br>{elevations_m[i]} m", xref="paper", yref="paper",
                            x=sx / W, y=1 - sy / H, xanchor="left", yanchor="top", showarrow=False,
                            align="left", bgcolor="white", bordercolor="#3a3a3a", borderwidth=1.5,
                            borderpad=(10 if i == 2 else 5),
                            font=dict(family=FONT, size=29, color=INK)))

annotations.append(dict(text="<i>time before present (Ma)</i>", xref="paper", yref="paper",
                        x=418 / W, y=1 - 1815 / H, xanchor="center", yanchor="middle", showarrow=False,
                        font=dict(family=FONT, size=29, color=INK)))

fig.update_layout(width=W, height=H, margin=dict(l=0, r=0, t=0, b=0),
                  paper_bgcolor="white", plot_bgcolor="white", showlegend=False,
                  shapes=shapes, annotations=annotations, hovermode=False)

fig.write_html("out.html")
